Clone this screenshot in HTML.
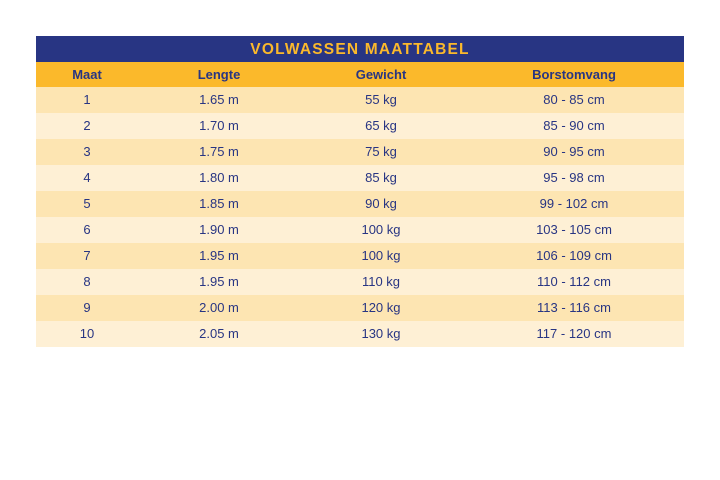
<!DOCTYPE html><html><head><style>
body{margin:0;width:720px;height:480px;background:#fff;font-family:"Liberation Sans",sans-serif;position:relative}
.t{position:absolute;left:36px;width:648px;top:36px}
.title{height:26px;background:#283583;color:#fbb92b;font-weight:900;font-size:15.5px;text-align:center;line-height:28px;letter-spacing:1.2px}
.r{height:26px;position:relative;font-size:13px;color:#283583}
.r span{position:absolute;top:0;line-height:26px;transform:translateX(-50%);white-space:nowrap}
.h{background:#fbb92b;font-weight:bold;height:25px}
.h span{line-height:25px}
.a{background:#fde5b2}.b{background:#fef0d5}
</style></head><body><div class="t">
<div class="title">VOLWASSEN MAATTABEL</div>
<div class="r h"><span style="left:51px">Maat</span><span style="left:183px">Lengte</span><span style="left:345px">Gewicht</span><span style="left:538px">Borstomvang</span></div>
<div class="r a"><span style="left:51px">1</span><span style="left:183px">1.65 m</span><span style="left:345px">55 kg</span><span style="left:538px">80 - 85 cm</span></div>
<div class="r b"><span style="left:51px">2</span><span style="left:183px">1.70 m</span><span style="left:345px">65 kg</span><span style="left:538px">85 - 90 cm</span></div>
<div class="r a"><span style="left:51px">3</span><span style="left:183px">1.75 m</span><span style="left:345px">75 kg</span><span style="left:538px">90 - 95 cm</span></div>
<div class="r b"><span style="left:51px">4</span><span style="left:183px">1.80 m</span><span style="left:345px">85 kg</span><span style="left:538px">95 - 98 cm</span></div>
<div class="r a"><span style="left:51px">5</span><span style="left:183px">1.85 m</span><span style="left:345px">90 kg</span><span style="left:538px">99 - 102 cm</span></div>
<div class="r b"><span style="left:51px">6</span><span style="left:183px">1.90 m</span><span style="left:345px">100 kg</span><span style="left:538px">103 - 105 cm</span></div>
<div class="r a"><span style="left:51px">7</span><span style="left:183px">1.95 m</span><span style="left:345px">100 kg</span><span style="left:538px">106 - 109 cm</span></div>
<div class="r b"><span style="left:51px">8</span><span style="left:183px">1.95 m</span><span style="left:345px">110 kg</span><span style="left:538px">110 - 112 cm</span></div>
<div class="r a"><span style="left:51px">9</span><span style="left:183px">2.00 m</span><span style="left:345px">120 kg</span><span style="left:538px">113 - 116 cm</span></div>
<div class="r b"><span style="left:51px">10</span><span style="left:183px">2.05 m</span><span style="left:345px">130 kg</span><span style="left:538px">117 - 120 cm</span></div>
</div></body></html>
